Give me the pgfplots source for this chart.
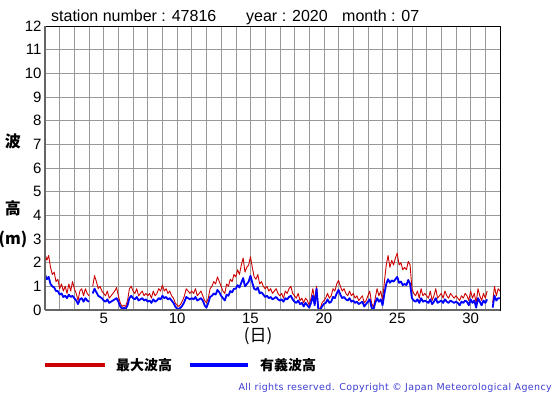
\documentclass[border=0pt]{standalone}
\usepackage{fontspec}
\setmainfont{Liberation Sans}
\newfontfamily\jp{Noto Sans CJK JP}
\newfontfamily\dv{DejaVu Sans}[LetterSpace=4]
\usepackage{pgfplots}
\pgfplotsset{compat=1.18}
\usepackage{pgfplotstable}
\definecolor{jred}{RGB}{204,0,0}
\definecolor{jblue}{RGB}{0,0,255}
\definecolor{cpy}{RGB}{60,60,210}

% 3-hourly values from day 1 00h to day 32 00h: r = max wave height, b = significant wave height
\pgfplotstableread{
r b
2.4 1.5
2.1 1.3
2.3 1.4
1.8 1.1
1.5 1.0
1.6 0.95
1.2 0.8
1.3 0.8
0.9 0.65
1.1 0.7
0.8 0.55
1.0 0.6
0.7 0.5
1.1 0.65
0.8 0.55
1.2 0.6
0.9 0.5
0.7 0.4
0.4 0.25
0.8 0.45
0.9 0.5
0.6 0.35
0.9 0.5
0.7 0.4
0.6 0.35
nan nan
1.0 0.7
1.45 0.9
1.2 0.75
0.9 0.6
1.0 0.55
0.8 0.5
0.7 0.4
0.6 0.35
0.8 0.45
0.5 0.3
0.6 0.35
0.7 0.4
0.8 0.45
0.95 0.5
0.6 0.35
0.3 0.15
0.15 0.05
0.2 0.1
0.15 0.05
0.4 0.2
0.9 0.5
1.0 0.6
0.8 0.5
0.7 0.45
0.9 0.55
0.6 0.4
0.7 0.45
0.8 0.5
0.6 0.4
0.7 0.45
0.6 0.35
0.7 0.4
0.5 0.3
0.8 0.45
0.6 0.35
0.7 0.4
0.9 0.5
0.8 0.45
1.05 0.6
0.8 0.5
0.9 0.55
0.7 0.45
0.8 0.5
0.6 0.4
0.5 0.3
0.3 0.15
0.2 0.05
0.15 0.05
0.25 0.1
0.4 0.2
0.6 0.35
0.9 0.55
0.8 0.5
0.7 0.45
0.8 0.5
0.7 0.45
0.9 0.55
0.6 0.4
0.7 0.45
0.8 0.5
0.6 0.4
0.4 0.2
0.3 0.1
0.5 0.3
0.9 0.55
1.0 0.6
1.2 0.7
1.1 0.65
1.4 0.85
1.2 0.75
1.0 0.6
0.8 0.5
0.7 0.4
1.1 0.65
1.0 0.6
1.3 0.8
1.2 0.75
1.5 0.9
1.4 0.9
1.7 1.05
1.5 0.95
1.9 1.15
2.2 1.35
1.6 1.0
1.8 1.1
1.9 1.2
2.25 1.45
1.8 1.15
1.4 0.9
1.3 0.85
1.5 0.95
1.1 0.7
1.2 0.75
1.0 0.65
0.9 0.55
1.0 0.6
0.8 0.5
0.9 0.55
0.7 0.45
0.8 0.5
0.9 0.55
0.7 0.45
0.6 0.4
0.7 0.45
0.5 0.35
0.8 0.5
0.7 0.45
0.9 0.55
1.0 0.6
0.7 0.45
0.6 0.35
0.5 0.3
0.7 0.4
0.4 0.25
0.5 0.3
0.3 0.15
0.5 0.3
0.4 0.2
0.2 0.1
0.5 0.3
0.9 0.6
0.4 0.2
1.0 0.9
0.1 0.0
0.05 0.0
0.3 0.15
0.4 0.25
0.5 0.3
0.7 0.45
0.5 0.3
0.6 0.35
0.9 0.55
0.8 0.5
1.1 0.7
1.25 0.85
1.0 0.65
0.8 0.5
0.9 0.55
0.7 0.45
0.6 0.4
0.8 0.5
0.6 0.35
0.7 0.4
0.5 0.3
0.6 0.35
0.4 0.25
0.5 0.3
0.6 0.35
0.3 0.15
0.4 0.25
0.6 0.35
0.8 0.45
0.3 0.1
0.1 0.0
0.5 0.3
0.9 0.5
0.6 0.35
0.8 0.45
0.4 0.2
1.2 0.7
1.9 1.1
2.3 1.3
1.8 1.15
2.1 1.25
1.9 1.2
2.2 1.3
2.4 1.4
1.9 1.15
2.0 1.2
1.7 1.05
1.8 1.1
1.7 1.05
2.05 1.27
1.9 1.1
0.9 0.5
0.7 0.4
0.6 0.35
0.8 0.45
0.5 0.3
0.9 0.5
0.6 0.35
0.7 0.4
0.6 0.35
0.5 0.3
0.8 0.45
0.4 0.25
0.6 0.35
0.9 0.5
0.5 0.3
0.6 0.35
0.7 0.4
0.5 0.3
0.8 0.45
0.6 0.35
0.5 0.3
0.7 0.4
0.6 0.35
0.5 0.3
0.6 0.35
0.5 0.3
0.4 0.2
0.6 0.35
0.5 0.3
0.7 0.4
0.6 0.35
0.4 0.2
0.8 0.45
0.5 0.3
0.7 0.4
0.3 0.1
0.9 0.5
0.6 0.35
0.4 0.2
0.7 0.4
0.5 0.3
0.8 0.45
nan nan
nan nan
0.3 0.1
1.0 0.6
0.6 0.4
0.9 0.5
0.8 0.5
}\wavedata

\begin{document}
\begin{tikzpicture}[x=1pt,y=1pt]
\path[use as bounding box] (0,0) rectangle (555,395);
\begin{axis}[
  name=ax,
  at={(45pt,85pt)}, anchor=south west,
  scale only axis, width=455pt, height=284pt,
  xmin=1, xmax=32, ymin=0, ymax=12,
  ytick={0,...,12},
  xtick={5,10,...,30},
  minor xtick={1,...,32},
  grid=both,
  major grid style={gray!80, line width=0.6pt},
  minor grid style={gray!80, line width=0.6pt},
  major tick length=0pt, minor tick length=0pt,
  tick label style={font=\fontsize{15}{18}\selectfont},
  /pgf/number format/assume math mode=true,
  axis line style={black, line width=0.9pt},
  unbounded coords=jump,
  clip mode=individual,
]
\addplot[color=jred, line width=0.9pt, line join=round] table[x expr=1+\coordindex/8, y=r]{\wavedata};
\addplot[color=jblue, line width=1.8pt, line join=round] table[x expr=1+\coordindex/8, y=b]{\wavedata};
\end{axis}
\draw[line width=2pt, black!60] (ax.south west) -- (ax.north west);
\draw[line width=2pt, black!60] (ax.south west) -- (ax.south east);

% title
\node[anchor=base west, inner sep=0pt, font=\fontsize{16}{19}\selectfont] at (51,373) {station number : 47816};
\node[anchor=base west, inner sep=0pt, font=\fontsize{16}{19}\selectfont] at (246,373) {year : 2020};
\node[anchor=base west, inner sep=0pt, font=\fontsize{16}{19}\selectfont] at (342,373) {month : 07};

% y label
\node[inner sep=0pt, font=\jp\bfseries\fontsize{16}{18}\selectfont] at (13,253.5) {波};
\node[inner sep=0pt, font=\jp\bfseries\fontsize{16}{18}\selectfont] at (13,187) {高};
\node[inner sep=0pt, font=\jp\bfseries\fontsize{16}{18}\selectfont] at (13,156) {(m)};

% x label
\node[inner sep=0pt, font=\jp\fontsize{17}{19}\selectfont] at (258,59) {(日)};

% legend
\draw[jred, line width=3.5pt] (45,30) -- (105,30);
\node[anchor=west, inner sep=0pt, font=\jp\bfseries\fontsize{14}{16}\selectfont] at (116,30) {最大波高};
\draw[jblue, line width=3.5pt] (190,30) -- (248,30);
\node[anchor=west, inner sep=0pt, font=\jp\bfseries\fontsize{14}{16}\selectfont] at (260,30) {有義波高};

% copyright
\node[anchor=east, inner sep=0pt, text=cpy, font=\dv\fontsize{9.5}{11}\selectfont] at (552,7.5) {All rights reserved. Copyright © Japan Meteorological Agency};
\end{tikzpicture}
\end{document}
